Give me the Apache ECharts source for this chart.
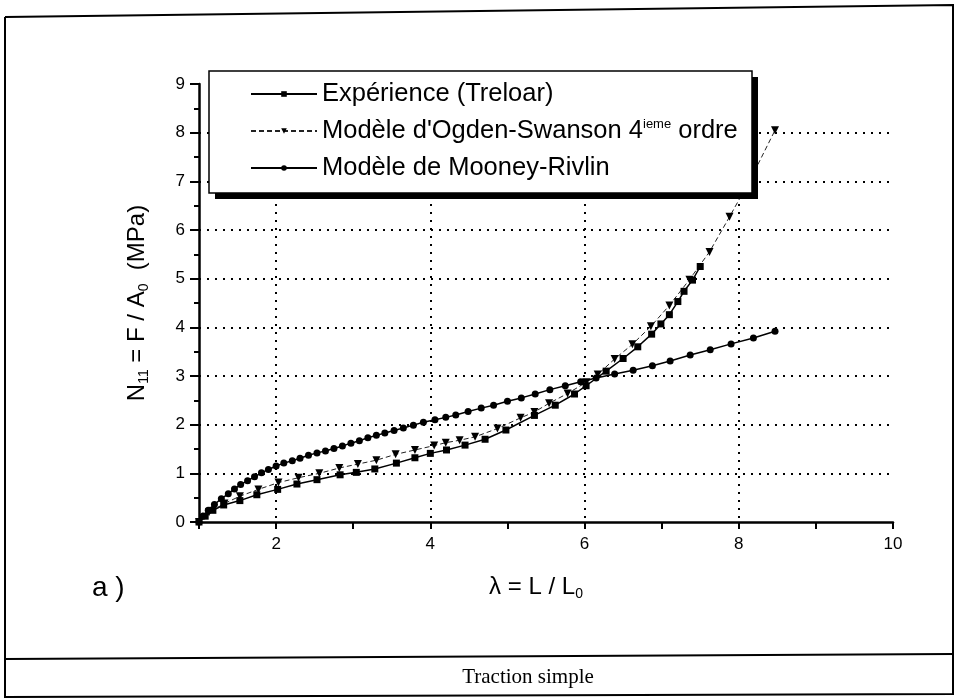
<!DOCTYPE html>
<html>
<head>
<meta charset="utf-8">
<script src="https://cdn.jsdelivr.net/npm/echarts@6/dist/echarts.min.js"></script>
<style>
html, body { margin: 0; padding: 0; background: #fff; }
#chart { width: 957px; height: 698px; }
</style>
</head>
<body>
<div id="chart"></div>
<script>
// Expérience (Treloar)
const expLambda = [1.00, 1.08, 1.18, 1.32, 1.53, 1.75, 2.02, 2.27, 2.53, 2.83, 3.04, 3.28, 3.56, 3.80, 4.00, 4.21, 4.45, 4.71, 4.98, 5.35, 5.62, 5.87, 6.02, 6.28, 6.50, 6.69, 6.87, 6.99, 7.10, 7.21, 7.29, 7.40, 7.50];
const expStress = [0, 0.12, 0.24, 0.35, 0.44, 0.56, 0.67, 0.78, 0.87, 0.97, 1.02, 1.09, 1.21, 1.32, 1.41, 1.48, 1.58, 1.70, 1.89, 2.19, 2.40, 2.63, 2.80, 3.10, 3.36, 3.60, 3.86, 4.07, 4.26, 4.53, 4.74, 4.97, 5.25];

// Modèle d'Ogden-Swanson 4ieme ordre
const ogdenLambda = [1.00, 1.13, 1.33, 1.53, 1.77, 2.03, 2.29, 2.56, 2.82, 3.06, 3.30, 3.55, 3.80, 4.05, 4.20, 4.38, 4.58, 4.87, 5.17, 5.35, 5.54, 5.78, 6.02, 6.17, 6.39, 6.62, 6.86, 7.10, 7.36, 7.62, 7.88, 8.17, 8.47];
const ogdenStress = [0, 0.20, 0.38, 0.53, 0.67, 0.81, 0.91, 1.00, 1.11, 1.19, 1.27, 1.39, 1.48, 1.57, 1.63, 1.68, 1.75, 1.92, 2.14, 2.26, 2.44, 2.64, 2.87, 3.03, 3.35, 3.65, 4.02, 4.45, 4.98, 5.55, 6.27, 7.10, 8.05];

// Modèle de Mooney-Rivlin
const mrLambda = [1.00, 1.05, 1.12, 1.20, 1.29, 1.38, 1.46, 1.54, 1.63, 1.72, 1.81, 1.90, 2.00, 2.10, 2.21, 2.31, 2.42, 2.53, 2.64, 2.75, 2.86, 2.97, 3.08, 3.19, 3.30, 3.41, 3.53, 3.65, 3.78, 3.91, 4.06, 4.20, 4.33, 4.49, 4.66, 4.82, 5.00, 5.18, 5.36, 5.55, 5.75, 5.95, 6.15, 6.39, 6.63, 6.88, 7.11, 7.37, 7.63, 7.90, 8.19, 8.47];
const mrStress = [0, 0.12, 0.24, 0.36, 0.48, 0.58, 0.68, 0.77, 0.85, 0.93, 1.01, 1.08, 1.15, 1.21, 1.26, 1.31, 1.37, 1.42, 1.46, 1.51, 1.56, 1.62, 1.67, 1.73, 1.78, 1.83, 1.88, 1.93, 1.99, 2.05, 2.10, 2.15, 2.20, 2.27, 2.34, 2.40, 2.48, 2.55, 2.63, 2.72, 2.80, 2.88, 2.96, 3.04, 3.12, 3.21, 3.31, 3.43, 3.54, 3.66, 3.78, 3.92];

const seriesNames = ['Expérience (Treloar)', "Modèle d'Ogden-Swanson 4ieme ordre", 'Modèle de Mooney-Rivlin'];

const sans = '"Liberation Sans", Arial, Helvetica, sans-serif';
const zip = (xs, ys) => xs.map((x, i) => [x, ys[i]]);

const chart = echarts.init(document.getElementById('chart'));

// boite de la legende (ombre portee noire)
const legBox = { x: 209, y: 71, w: 543, h: 122 };

const option = {
  animation: false,
  backgroundColor: '#fff',
  textStyle: { fontFamily: sans },
  grid: { left: 199, right: 64, top: 84, bottom: 176 },
  xAxis: {
    type: 'value',
    min: 1,
    max: 10,
    interval: 1,
    axisLine: { onZero: false, lineStyle: { color: '#000', width: 2.5 } },
    axisTick: { length: 7, lineStyle: { color: '#000', width: 2 } },
    axisLabel: {
      formatter: v => (v % 2 === 0 ? String(v) : ''),
      color: '#000', fontSize: 17, fontFamily: sans, margin: 14
    },
    splitLine: {
      show: true,
      showMaxLine: false,
      lineStyle: { color: ['rgba(0,0,0,0)', '#000'], type: [2, 6], width: 2 }
    }
  },
  yAxis: {
    type: 'value',
    min: 0,
    max: 9,
    interval: 1,
    name: '{t|N}{s|11}{t| = F / A}{s|0}{t|  (MPa)}',
    nameLocation: 'middle',
    nameRotate: 90,
    nameGap: 48,
    nameTextStyle: {
      rich: {
        t: { fontSize: 24, fontFamily: sans, color: '#000', lineHeight: 28 },
        s: { fontSize: 14, fontFamily: sans, color: '#000', lineHeight: 14, verticalAlign: 'bottom' }
      }
    },
    axisLine: { show: true, lineStyle: { color: '#000', width: 2.5 } },
    axisTick: { length: 9, lineStyle: { color: '#000', width: 2 } },
    minorTick: { show: true, splitNumber: 2, length: 5, lineStyle: { color: '#000', width: 2 } },
    axisLabel: { color: '#000', fontSize: 17, fontFamily: sans, margin: 14 },
    splitLine: {
      show: true,
      showMinLine: false,
      showMaxLine: false,
      lineStyle: { color: '#000', type: [2, 6], width: 2 }
    }
  },
  legend: {
    orient: 'vertical',
    left: legBox.x,
    top: legBox.y,
    z: 20,
    padding: [10, 0, 0, 41],
    itemGap: 11,
    itemWidth: 66,
    itemHeight: 7,
    data: seriesNames,
    formatter: name => {
      if (name === seriesNames[1]) {
        return "{n|Modèle d'Ogden-Swanson 4}{sup|ieme}{n| ordre}";
      }
      return '{n|' + name + '}';
    },
    textStyle: {
      color: '#000',
      fontSize: 25.5,
      lineHeight: 26,
      fontFamily: sans,
      rich: {
        n: { fontSize: 25.5, fontFamily: sans, color: '#000', lineHeight: 26 },
        sup: { fontSize: 13, fontFamily: sans, color: '#000', lineHeight: 12, verticalAlign: 'top' }
      }
    }
  },
  graphic: [
    // cadre general
    { type: 'polyline', shape: { points: [[5, 17], [953, 5], [953, 694], [5, 697], [5, 17]] }, style: { fill: 'none', stroke: '#000', lineWidth: 2 }, silent: true },
    { type: 'line', shape: { x1: 5, y1: 659, x2: 953, y2: 654 }, style: { stroke: '#000', lineWidth: 2 }, silent: true },
    { type: 'text', x: 528, y: 677, style: { text: 'Traction simple', font: '21px "Liberation Serif", "Times New Roman", serif', fill: '#000', textAlign: 'center', textVerticalAlign: 'middle' }, silent: true },
    { type: 'text', x: 92, y: 588, style: { text: 'a )', font: '28px ' + sans, fill: '#000', textAlign: 'left', textVerticalAlign: 'middle' }, silent: true },
    {
      type: 'text', x: 536, y: 587,
      style: {
        text: '{t|λ = L / L}{s|0}',
        textAlign: 'center', textVerticalAlign: 'middle',
        rich: {
          t: { fontSize: 24, fontFamily: sans, fill: '#000', lineHeight: 28 },
          s: { fontSize: 14, fontFamily: sans, fill: '#000', lineHeight: 14, verticalAlign: 'bottom' }
        }
      },
      silent: true
    },
    // legende : ombre puis boite blanche
    { type: 'rect', z: 10, shape: { x: legBox.x + 6, y: legBox.y + 6, width: legBox.w, height: legBox.h }, style: { fill: '#000' }, silent: true },
    { type: 'rect', z: 11, shape: { x: legBox.x, y: legBox.y, width: legBox.w, height: legBox.h }, style: { fill: '#fff', stroke: '#000', lineWidth: 1.5 }, silent: true }
  ],
  series: [
    {
      name: seriesNames[0],
      type: 'line',
      data: zip(expLambda, expStress),
      symbol: 'rect',
      symbolSize: 7,
      showAllSymbol: true,
      lineStyle: { color: '#000', width: 1.5 },
      itemStyle: { color: '#000' },
      z: 4
    },
    {
      name: seriesNames[1],
      type: 'line',
      data: zip(ogdenLambda, ogdenStress),
      symbol: 'triangle',
      symbolRotate: 180,
      symbolSize: 8,
      showAllSymbol: true,
      lineStyle: { color: '#222', width: 1, type: [5, 3] },
      itemStyle: { color: '#000' },
      z: 3
    },
    {
      name: seriesNames[2],
      type: 'line',
      data: zip(mrLambda, mrStress),
      symbol: 'circle',
      symbolSize: 7,
      showAllSymbol: true,
      lineStyle: { color: '#000', width: 1.5 },
      itemStyle: { color: '#000' },
      z: 3
    }
  ]
};

chart.setOption(option);
</script>
</body>
</html>
